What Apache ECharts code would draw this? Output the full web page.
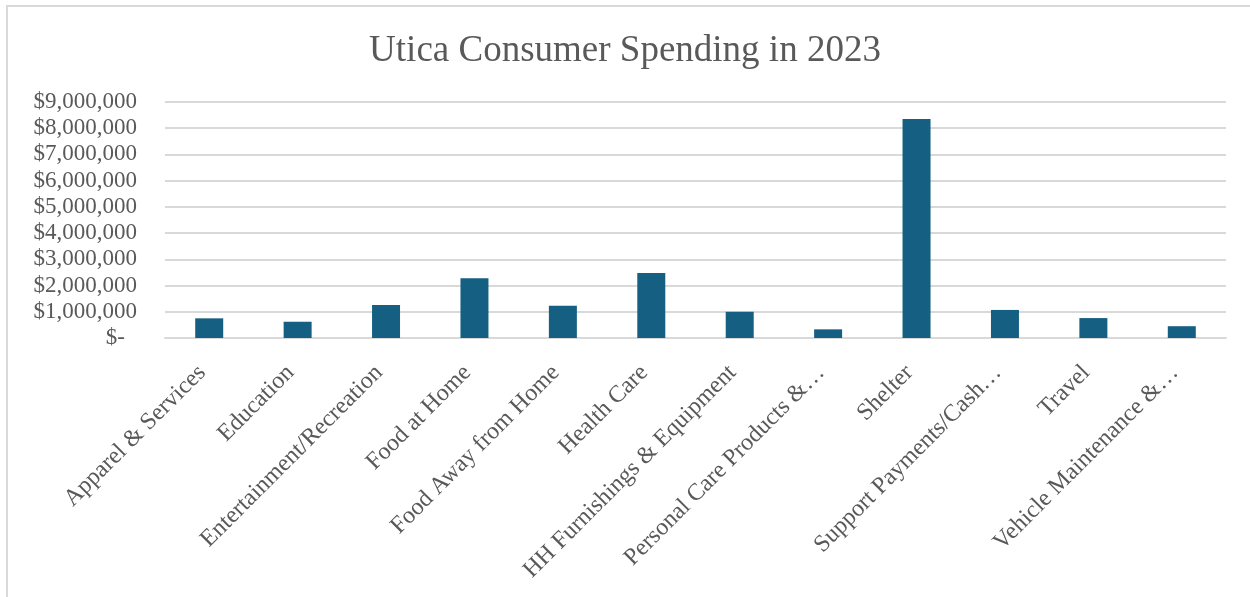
<!DOCTYPE html>
<html>
<head>
<meta charset="utf-8">
<script src="https://cdn.jsdelivr.net/npm/echarts@6/dist/echarts.min.js"></script>
<style>
  html, body { margin: 0; padding: 0; background: #fff; }
  #chart { width: 1250px; height: 597px; }
</style>
</head>
<body>
<div id="chart"></div>
<script>
var categories = [
  'Apparel & Services', 'Education', 'Entertainment/Recreation', 'Food at Home',
  'Food Away from Home', 'Health Care', 'HH Furnishings & Equipment',
  'Personal Care Products &\u2026', 'Shelter', 'Support Payments/Cash\u2026',
  'Travel', 'Vehicle Maintenance &\u2026'
];
var spending = [
  750000, 620000, 1260000, 2280000, 1230000, 2480000, 1000000,
  330000, 8350000, 1070000, 760000, 450000
];
var yTicks = [0, 1000000, 2000000, 3000000, 4000000, 5000000, 6000000, 7000000, 8000000, 9000000];

var serif = '"Liberation Serif", "DejaVu Serif", serif';

function money(v) {
  if (v === 0) return '{z|$-}';
  return '$' + v.toLocaleString('en-US');
}

var chart = echarts.init(document.getElementById('chart'));
chart.setOption({
  animation: false,
  backgroundColor: '#fff',
  graphic: [{
    type: 'rect',
    shape: { x: 7, y: 6, width: 1270, height: 620 },
    style: { fill: 'none', stroke: '#d9d9d9', lineWidth: 2 },
    silent: true
  }],
  title: {
    text: 'Utica Consumer Spending in 2023',
    left: 'center',
    top: 28,
    textStyle: { fontFamily: serif, fontSize: 37, fontWeight: 'normal', color: '#595959' }
  },
  grid: { left: 165, right: 24, top: 102, bottom: 259, outerBoundsMode: 'none', containLabel: false },
  xAxis: {
    type: 'category',
    data: categories,
    axisTick: { show: false },
    axisLine: { lineStyle: { color: '#d9d9d9', width: 2 } },
    axisLabel: {
      interval: 0,
      rotate: 45,
      margin: 24,
      padding: [0, 10, 0, 0],
      fontFamily: serif,
      fontSize: 24,
      color: '#595959'
    }
  },
  yAxis: {
    type: 'value',
    min: yTicks[0],
    max: yTicks[yTicks.length - 1],
    interval: 1000000,
    axisLine: { show: false },
    axisTick: { show: false },
    splitLine: { lineStyle: { color: '#d9d9d9', width: 2 } },
    axisLabel: {
      margin: 28,
      fontFamily: serif,
      fontSize: 23,
      color: '#595959',
      formatter: money,
      rich: { z: { fontFamily: serif, fontSize: 23, color: '#595959', padding: [0, 12, 0, 0] } }
    }
  },
  series: [{
    type: 'bar',
    data: spending,
    barWidth: 28,
    itemStyle: { color: '#156082' }
  }]
});
</script>
</body>
</html>
